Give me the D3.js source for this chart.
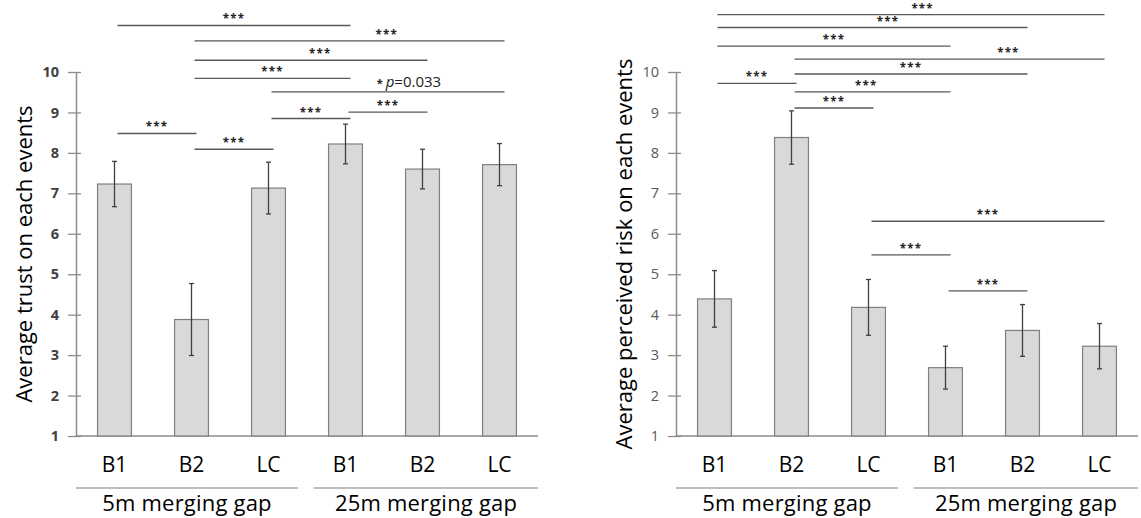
<!DOCTYPE html>
<html>
<head>
<meta charset="utf-8">
<script src="https://cdn.jsdelivr.net/npm/d3@7"></script>
<style>
  body { margin: 0; background: #fff; }
  svg { display: block; font-family: 'Open Sans', sans-serif; }
</style>
</head>
<body>
<div id="chart"></div>
<script>
// conditions along the x axis and the label printed under each bar
const conditions = ['5m-B1', '5m-B2', '5m-LC', '25m-B1', '25m-B2', '25m-LC'];
const conditionLabels = ['B1', 'B2', 'LC', 'B1', 'B2', 'LC'];
const groupNames = ['5m merging gap', '25m merging gap'];
const groupMembers = [[0, 2], [3, 5]];
const yTicks = [1, 2, 3, 4, 5, 6, 7, 8, 9, 10];

// left panel: trust
const trustMeans = [7.23, 3.88, 7.13, 8.22, 7.60, 7.71];
const trustErrors = [0.56, 0.89, 0.64, 0.49, 0.49, 0.52];
// right panel: perceived risk
const riskMeans = [4.39, 8.38, 4.18, 2.69, 3.61, 3.22];
const riskErrors = [0.70, 0.66, 0.69, 0.53, 0.64, 0.56];

// significance brackets: [from bar, to bar, level (y units), label, label position along the line]
const trustSig = [
  [0, 3, 11.15, '***', 0.5],
  [1, 5, 10.77, '***', 0.62],
  [1, 4, 10.29, '***', 0.54],
  [1, 3, 9.84, '***', 0.5],
  [2, 5, 9.51, 'p=0.033', 0.59],
  [3, 4, 9.01, '***', 0.5],
  [2, 3, 8.85, '***', 0.5],
  [0, 1, 8.48, '***', 0.5],
  [1, 2, 8.09, '***', 0.5],
];
const riskSig = [
  [0, 5, 11.42, '***', 0.53],
  [0, 4, 11.10, '***', 0.55],
  [0, 3, 10.64, '***', 0.5],
  [1, 5, 10.32, '***', 0.69],
  [1, 4, 9.95, '***', 0.5],
  [0, 1, 9.72, '***', 0.5],
  [1, 3, 9.51, '***', 0.46],
  [1, 2, 9.11, '***', 0.5],
  [2, 5, 6.31, '***', 0.5],
  [2, 3, 5.48, '***', 0.5],
  [3, 4, 4.59, '***', 0.5],
];

// SigBarChart
// one bar panel with error bars, significance brackets and grouped x labels
class SigBarChart {
  constructor(options, means, errors, sig) {
    const defaultOpts = {
      offsetX: 0,
      left: 76,
      right: 538,
      top: 72,
      bottom: 436,
      yLabel: '',
      boldTicks: false,
      tickColor: '#595959',
    };
    this.options = Object.assign({}, defaultOpts, options);
    this.means = means;
    this.errors = errors;
    this.sig = sig;
  }

  // initDiagram()
  // build scales then draw every layer into a group
  initDiagram(svg) {
    const o = this.options;
    this.g = svg.append('g').attr('transform', 'translate(' + o.offsetX + ',0)');
    this.x = d3.scaleBand().domain(conditions).range([o.left, o.right]).paddingInner(0.56).paddingOuter(0.28);
    this.y = d3.scaleLinear().domain([1, 10]).range([o.bottom, o.top]);
    this.drawAxes();
    this.drawBars();
    this.drawSignificance();
    this.drawLabels();
  }

  // drawAxes()
  drawAxes() {
    const o = this.options;
    const axis = this.g.append('g')
      .attr('transform', 'translate(' + o.left + ',0)')
      .call(d3.axisLeft(this.y).tickValues(yTicks).tickSize(8).tickPadding(9).tickSizeOuter(0));
    axis.select('.domain').attr('stroke', '#8c8c8c').attr('stroke-width', 1.5);
    axis.selectAll('.tick line').attr('x1', 5).attr('stroke', '#8c8c8c').attr('stroke-width', 1.3);
    axis.selectAll('.tick text')
      .attr('font-family', "'Open Sans', sans-serif")
      .attr('font-size', 14.5)
      .attr('font-weight', o.boldTicks ? 'bold' : 'normal')
      .attr('fill', o.tickColor);
    // baseline along y = 1
    this.g.append('line')
      .attr('x1', o.left).attr('x2', o.right)
      .attr('y1', this.y(1)).attr('y2', this.y(1))
      .attr('stroke', '#8c8c8c').attr('stroke-width', 1.5);
  }

  // drawBars()
  drawBars() {
    const x = this.x, y = this.y, bw = x.bandwidth();
    const rows = conditions.map((c, i) => ({ c: c, m: this.means[i], e: this.errors[i] }));
    this.g.selectAll('rect.bar').data(rows).enter().append('rect')
      .attr('class', 'bar')
      .attr('x', d => x(d.c))
      .attr('width', bw)
      .attr('y', d => y(d.m))
      .attr('height', d => y(1) - y(d.m))
      .attr('fill', '#d9d9d9')
      .attr('stroke', '#7f7f7f')
      .attr('stroke-width', 1.2);
    const err = this.g.selectAll('g.err').data(rows).enter().append('g').attr('class', 'err')
      .attr('stroke', '#404040').attr('stroke-width', 1.3);
    err.append('line')
      .attr('x1', d => x(d.c) + bw / 2).attr('x2', d => x(d.c) + bw / 2)
      .attr('y1', d => y(d.m + d.e)).attr('y2', d => y(d.m - d.e));
    err.append('line')
      .attr('x1', d => x(d.c) + bw / 2 - 2.5).attr('x2', d => x(d.c) + bw / 2 + 2.5)
      .attr('y1', d => y(d.m + d.e)).attr('y2', d => y(d.m + d.e));
    err.append('line')
      .attr('x1', d => x(d.c) + bw / 2 - 2.5).attr('x2', d => x(d.c) + bw / 2 + 2.5)
      .attr('y1', d => y(d.m - d.e)).attr('y2', d => y(d.m - d.e));
  }

  // drawSignificance()
  // horizontal brackets with *** (or a p value) above them
  drawSignificance() {
    const x = this.x, y = this.y, half = x.bandwidth() / 2;
    const rows = this.sig.map(s => ({
      x1: x(conditions[s[0]]) + half + 3,
      x2: x(conditions[s[1]]) + half + 5,
      v: s[2], label: s[3], pos: s[4],
    }));
    this.g.selectAll('line.sig').data(rows).enter().append('line')
      .attr('class', 'sig')
      .attr('x1', d => d.x1).attr('x2', d => d.x2)
      .attr('y1', d => y(d.v)).attr('y2', d => y(d.v))
      .attr('stroke', '#595959').attr('stroke-width', 1.3);
    const txt = this.g.selectAll('text.sig').data(rows).enter().append('text')
      .attr('class', 'sig')
      .attr('x', d => d.x1 + (d.x2 - d.x1) * d.pos)
      .attr('text-anchor', 'middle')
      .attr('fill', '#222');
    txt.filter(d => d.label === '***')
      .attr('y', d => y(d.v) - 2)
      .attr('font-size', 11.5)
      .attr('font-weight', 'bold')
      .attr('letter-spacing', 1.2)
      .text('***');
    const p = txt.filter(d => d.label !== '***')
      .attr('y', d => y(d.v) - 5)
      .attr('font-size', 15);
    p.append('tspan').attr('font-size', 11).attr('font-weight', 'bold').text('* ');
    p.append('tspan').attr('font-style', 'italic').text('p');
    p.append('tspan').text(d => d.label.slice(1));
  }

  // drawLabels()
  // category names, group underline + name, rotated y label
  drawLabels() {
    const o = this.options, x = this.x, bw = x.bandwidth();
    const gap = (x.step() - bw) / 2;
    this.g.selectAll('text.cat').data(conditions).enter().append('text')
      .attr('class', 'cat')
      .attr('x', d => x(d) + bw / 2)
      .attr('y', o.bottom + 36)
      .attr('text-anchor', 'middle')
      .attr('font-size', 21)
      .attr('fill', '#000')
      .text((d, i) => conditionLabels[i]);
    const groups = groupNames.map((name, i) => ({
      name: name,
      x1: x(conditions[groupMembers[i][0]]) - gap + (i === 0 ? 0 : 7),
      x2: x(conditions[groupMembers[i][1]]) + bw + gap - (i === 0 ? 9 : 0),
    }));
    this.g.selectAll('line.grp').data(groups).enter().append('line')
      .attr('class', 'grp')
      .attr('x1', d => d.x1).attr('x2', d => d.x2)
      .attr('y1', o.bottom + 52).attr('y2', o.bottom + 52)
      .attr('stroke', '#7f7f7f').attr('stroke-width', 1.2);
    this.g.selectAll('text.grp').data(groups).enter().append('text')
      .attr('class', 'grp')
      .attr('x', d => (d.x1 + d.x2) / 2)
      .attr('y', o.bottom + 75)
      .attr('text-anchor', 'middle')
      .attr('font-size', 22)
      .attr('letter-spacing', 0.2)
      .attr('fill', '#000')
      .text(d => d.name);
    this.g.append('text')
      .attr('transform', 'translate(' + (o.left - 44) + ',' + (o.top + o.bottom) / 2 + ') rotate(-90)')
      .attr('text-anchor', 'middle')
      .attr('font-size', 22)
      .attr('fill', '#000')
      .text(o.yLabel);
  }
}

const svg = d3.select('#chart').append('svg').attr('width', 1141).attr('height', 518);
new SigBarChart({ offsetX: 0, yLabel: 'Average trust on each events', boldTicks: true, tickColor: '#404040' },
  trustMeans, trustErrors, trustSig).initDiagram(svg);
new SigBarChart({ offsetX: 600, yLabel: 'Average perceived risk on each events', boldTicks: false, tickColor: '#595959' },
  riskMeans, riskErrors, riskSig).initDiagram(svg);
</script>
</body>
</html>
